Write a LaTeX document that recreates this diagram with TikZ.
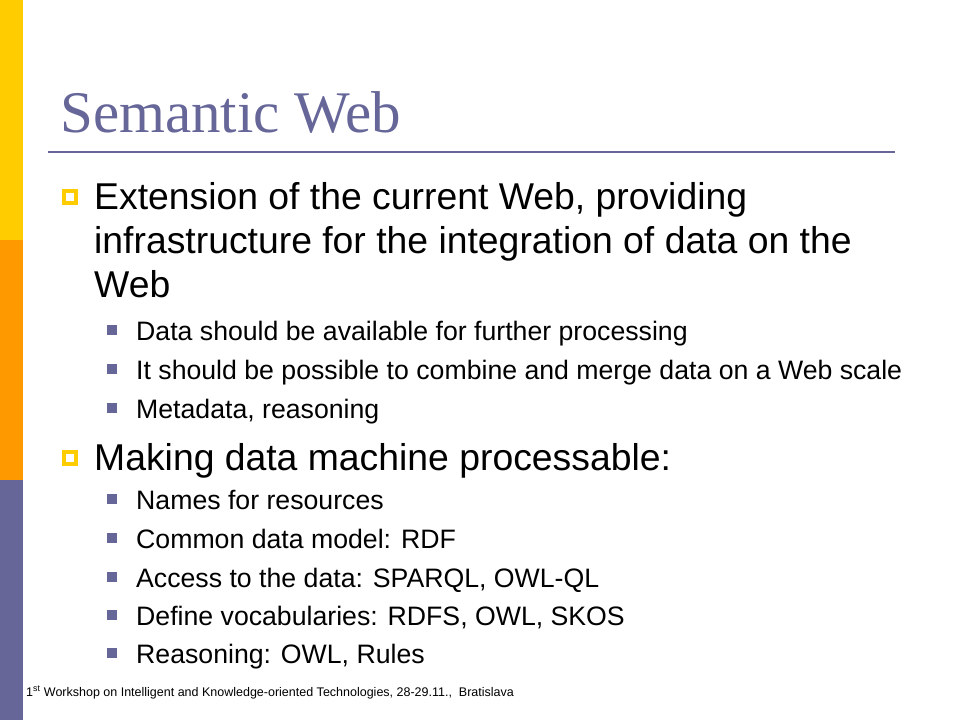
\documentclass[tikz,border=0pt]{standalone}
\usepackage{fontspec}
\setmainfont{Liberation Sans}
\newfontfamily\titlefont{Liberation Serif}
\definecolor{sYellow}{HTML}{FFCC00}
\definecolor{sOrange}{HTML}{FF9900}
\definecolor{sPurple}{HTML}{666699}
\begin{document}
\begin{tikzpicture}[x=1pt,y=-1pt,
  lone/.style={anchor=base west,inner sep=0pt,font=\fontsize{37.33}{44}\selectfont},
  ltwo/.style={anchor=base west,inner sep=0pt,font=\fontsize{26.67}{32}\selectfont},
  bone/.style={draw=sYellow,line width=3.4pt,minimum size=12pt,inner sep=0pt},
  btwo/.style={fill=sPurple,minimum size=10pt,inner sep=0pt}]
\useasboundingbox (0,0) rectangle (960,720);
\fill[white] (0,0) rectangle (960,720);
% left bar
\fill[sYellow] (0,0) rectangle (23,240);
\fill[sOrange] (0,240) rectangle (23,480);
\fill[sPurple] (0,480) rectangle (23,720);
% title
\node[anchor=base west,inner sep=0pt,text=sPurple,font=\titlefont\fontsize{59}{64}\selectfont] (title) at (60,132) {Semantic Web};
\draw[sPurple,line width=2pt] (48,152) -- (895,152);
% first bullet
\node[bone] (b1) at (70,197) {};
\node[lone] (t1a) at (94,209) {Extension of the current Web, providing};
\node[lone] (t1b) at (94,253) {infrastructure for the integration of data on the};
\node[lone] (t1c) at (94,297) {Web};
\node[btwo] (s1) at (112,330) {};
\node[ltwo] (u1) at (136,340) {Data should be available for further processing};
\node[btwo] (s2) at (112,369) {};
\node[ltwo] (u2) at (136,379) {It should be possible to combine and merge data on a Web scale};
\node[btwo] (s3) at (112,408) {};
\node[ltwo] (u3) at (136,418) {Metadata, reasoning};
% second bullet
\node[bone] (b2) at (70,458) {};
\node[lone] (t2) at (94,470) {Making data machine processable:};
\node[btwo] (s4) at (112,499) {};
\node[ltwo] (u4) at (136,509) {Names for resources};
\node[btwo] (s5) at (112,538) {};
\node[ltwo] (u5) at (136,548) {Common data model: RDF};
\node[btwo] (s6) at (112,577) {};
\node[ltwo] (u6) at (136,587) {Access to the data: SPARQL, OWL-QL};
\node[btwo] (s7) at (112,615) {};
\node[ltwo] (u7) at (136,625) {Define vocabularies: RDFS, OWL, SKOS};
\node[btwo] (s8) at (112,653) {};
\node[ltwo] (u8) at (136,663) {Reasoning: OWL, Rules};
% footer
\node[anchor=base west,inner sep=0pt,font=\fontsize{12.5}{14}\selectfont] (foot) at (26,696) {1\textsuperscript{st} Workshop on Intelligent and Knowledge-oriented Technologies, 28-29.11.,\ \ Bratislava};
\end{tikzpicture}
\end{document}
